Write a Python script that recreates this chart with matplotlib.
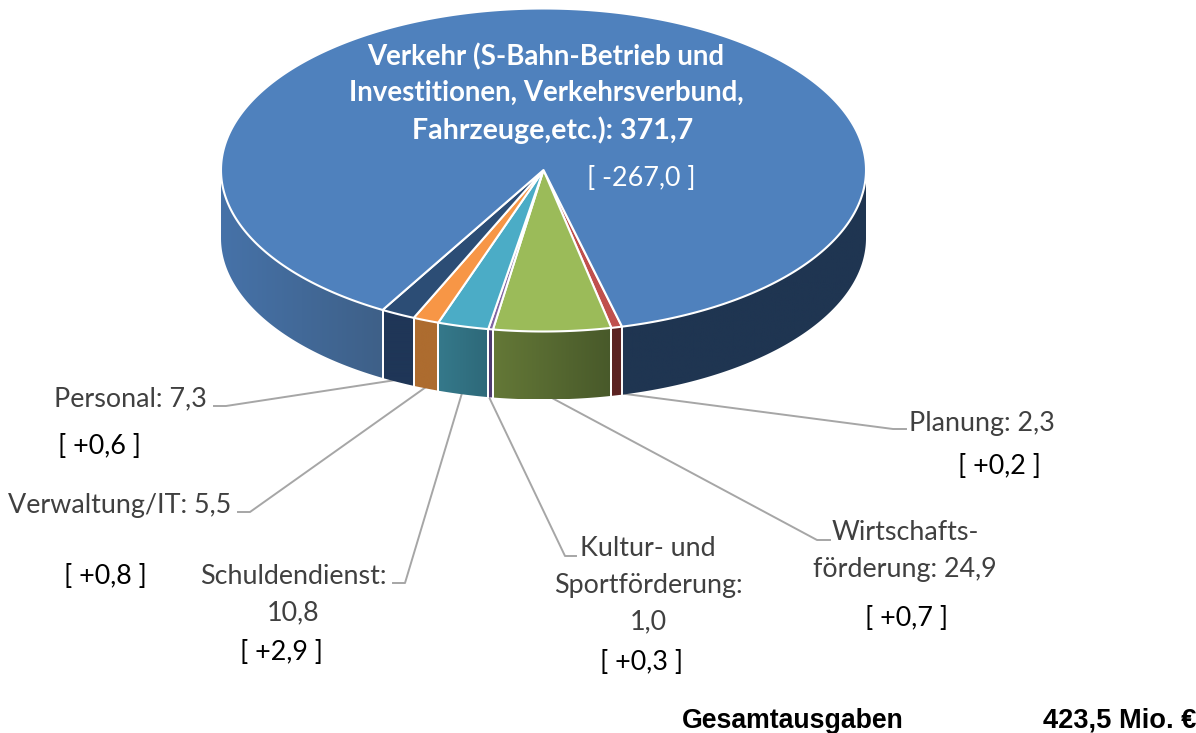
import numpy as np
import matplotlib
matplotlib.use("Agg")
import matplotlib.pyplot as plt
from matplotlib.colors import LinearSegmentedColormap
from matplotlib.patches import Polygon

# Data, clockwise on screen, starting at the Planung slice
names = ["Planung", "Wirtschaftsförderung", "Kultur- und Sportförderung", "Schuldendienst",
         "Verwaltung/IT", "Personal", "Verkehr"]
values = [2.3, 24.9, 1.0, 10.8, 5.5, 7.3, 371.7]
changes = ["+0,2", "+0,7", "+0,3", "+2,9", "+0,8", "+0,6", "-267,0"]

top_colors = ["#c0504d", "#9bbb59", "#8064a2", "#4bacc6", "#f79646", "#2c4d75", "#4f81bd"]
wall_left = ["#5c2322", "#647837", "#4f3b70", "#35798b", "#ad6c2f", "#1f3657", "#4672a8"]
wall_right = ["#5c2322", "#48592a", "#4f3b70", "#2e6979", "#ad6c2f", "#1f3657", "#3e6088"]
wall_back = "#1f3551"

cx, cy, rx, ry = 543.5, 170, 322.5, 161.5
depth = 68
start_angle = 75.9
grey = "#404040"
line_grey = "#a6a6a6"

plt.rcParams["font.family"] = ["Lato", "DejaVu Sans"]

fig = plt.figure(figsize=(11.96, 7.33), dpi=100)
ax = fig.add_axes([0, 0, 1, 1])
ax.axis("off")


def rim(t0, t1, dy=0):
    t = np.radians(np.linspace(t0, t1, max(int(abs(t1 - t0) * 4), 4)))
    return np.column_stack([cx + rx * np.cos(t), cy + ry * np.sin(t) + dy])


def wall(t0, t1, c0, c1):
    top = rim(t0, t1)
    pts = np.vstack([top, rim(t1, t0, depth)])
    patch = Polygon(pts, closed=True, fc="none", ec="none", transform=ax.transData)
    ax.add_patch(patch)
    cmap = LinearSegmentedColormap.from_list("w", [c0, c1])
    grad = np.linspace(0, 1, 128).reshape(1, -1)
    im = ax.imshow(grad, cmap=cmap, extent=[pts[:, 0].min(), pts[:, 0].max(), pts[:, 1].max(), pts[:, 1].min()],
                   aspect="auto", zorder=2)
    im.set_clip_path(patch)
    # white separators on the cut edges
    for t in (t0, t1):
        p = rim(t, t)[0]
        if 0 < t < 180:
            ax.plot([p[0], p[0]], [p[1], p[1] + depth], color="white", lw=1.4, zorder=3)


angles = start_angle + np.cumsum([0] + values) / sum(values) * 360

# side walls (only the front half of the disc can be seen)
for i in range(len(values)):
    t0, t1 = angles[i], angles[i + 1]
    if i < len(values) - 1:
        wall(t0, t1, wall_left[i], wall_right[i])
    else:
        wall(t0, 180, wall_left[i], wall_right[i])
        wall(360, t1, wall_back, wall_back)

# top surface
for i in range(len(values)):
    pts = np.vstack([[cx, cy], rim(angles[i], angles[i + 1])])
    ax.add_patch(Polygon(pts, closed=True, fc=top_colors[i], ec="white", lw=1.5, joinstyle="round", zorder=4))

ax.set_xlim(0, 1196)
ax.set_ylim(733, 0)

# leader lines
ax.plot([618, 893, 906], [393, 429, 429], color=line_grey, lw=1.4, zorder=1)
ax.plot([552, 817, 830], [398, 540, 540], color=line_grey, lw=1.4, zorder=1)
ax.plot([489, 565, 576], [397, 556, 556], color=line_grey, lw=1.4, zorder=1)
ax.plot([462, 405, 393], [393, 583, 583], color=line_grey, lw=1.4, zorder=1)
ax.plot([426, 250, 238], [387, 512, 512], color=line_grey, lw=1.4, zorder=1)
ax.plot([396, 226, 214], [380, 406, 406], color=line_grey, lw=1.4, zorder=1)

fs = 19.4


def label(x, y, s, ha="center", color=grey, **kw):
    ax.text(x, y + 2, s, ha=ha, va="center", color=color, fontsize=kw.pop("size", fs), zorder=5, **kw)


# labels
label(207, 397, "Personal: 7,3", ha="right")
label(100, 445, "[ %s ]" % changes[5], color="black")
label(231, 503, "Verwaltung/IT: 5,5", ha="right")
label(105, 574, "[ %s ]" % changes[4], color="black")
label(293, 575, "Schuldendienst:")
label(293, 611, "10,8")
label(281, 650, "[ %s ]" % changes[3], color="black")
label(648, 547, "Kultur- und")
label(648, 584, "Sportförderung:")
label(648, 620, "1,0")
label(642, 660, "[ %s ]" % changes[2], color="black")
label(905, 531, "Wirtschafts-")
label(905, 567, "förderung: 24,9")
label(907, 617, "[ %s ]" % changes[1], color="black")
label(982, 421, "Planung: 2,3")
label(999, 464, "[ %s ]" % changes[0], color="black")

label(546, 55, "Verkehr (S-Bahn-Betrieb und", color="white", fontweight="bold", size=19.9)
label(546, 91, "Investitionen, Verkehrsverbund,", color="white", fontweight="bold", size=19.9)
label(553, 128, "Fahrzeuge,etc.): 371,7", color="white", fontweight="bold", size=20.6)
label(641, 177, "[ %s ]" % changes[6], color="white")

label(682, 719, "Gesamtausgaben", ha="left", color="black", fontweight="bold", size=19.2, family="Liberation Sans")
label(1196, 719, "423,5 Mio. €", ha="right", color="black", fontweight="bold", size=19.6, family="Liberation Sans")

plt.savefig("out.png", dpi=100)
plt.close()
